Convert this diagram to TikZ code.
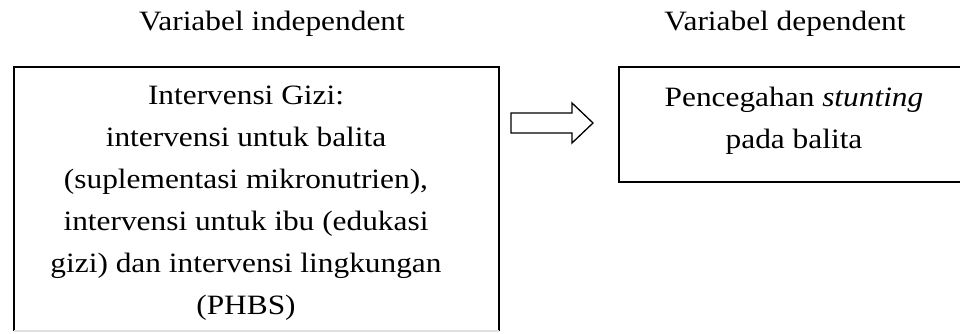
\documentclass[tikz,border=0pt]{standalone}
\usepackage{fontspec}
\setmainfont{Liberation Serif}[FakeStretch=1.12]
\begin{document}
\begin{tikzpicture}[x=1pt,y=1pt,
  edge/.style={draw=black,line width=1.8pt,line join=miter},
  boxstyle/.style={edge,inner sep=0pt,outer sep=0pt},
  txt/.style={inner sep=0pt,outer sep=0pt,align=center,font=\fontsize{28}{42}\selectfont},
  blockarrow/.style={draw=black,line width=1.3pt,fill=white,line join=miter}]
\useasboundingbox (0,0) rectangle (960,333);
% boxes
\node[inner sep=0pt,outer sep=0pt,minimum width=485pt,minimum height=264pt] (indep) at (256.5,134) {};
\draw[edge] (indep.south west) -- (indep.north west) -- (indep.north east) -- (indep.south east);
\draw[line width=1.5pt,black!12] (indep.south west) -- (indep.south east);
\node[boxstyle,minimum width=343pt,minimum height=115pt] (dep) at (790.5,208.5) {};
% titles
\node[txt,anchor=base] (t1) at (272,302) {Variabel independent};
\node[txt,anchor=base] (t2) at (785,302) {Variabel dependent};
% texts
\node[txt] (x1) at (246,130.2) {Intervensi Gizi:\\intervensi untuk balita\\(suplementasi mikronutrien),\\intervensi untuk ibu (edukasi\\gizi) dan intervensi lingkungan\\(PHBS)};
\node[txt] (x2) at (794,212.7) {Pencegahan \textit{stunting}\\pada balita};
% block arrow
\coordinate (a0) at (511,220);
\coordinate (tip) at (593,210);
\draw[blockarrow] (a0) -- (572,220) -- (572,230) -- (tip) -- (572,190) -- (572,200) -- (511,200) -- cycle;
\end{tikzpicture}
\end{document}
